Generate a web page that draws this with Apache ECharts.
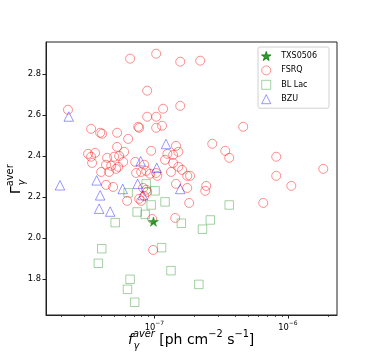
<!DOCTYPE html>
<html>
<head>
<meta charset="utf-8">
<script src="https://cdn.jsdelivr.net/npm/echarts@6/dist/echarts.min.js"></script>
<style>
html,body{margin:0;padding:0;background:#fff}
#main{width:374px;height:354px}
</style>
</head>
<body>
<div id="main"></div>
<script>
// values
var txsX = [9.83e-8];
var txsY = [2.081];

var fsrqX = [6.57e-8, 1.03e-7, 1.56e-7, 2.20e-7, 8.82e-8, 2.25e-8, 1.56e-7, 1.16e-7, 8.82e-8, 1.03e-7,
	4.62e-7, 3.35e-8, 3.92e-8, 4.05e-8, 5.25e-8, 7.55e-8, 7.68e-8, 1.03e-7, 1.14e-7, 6.35e-8,
	2.71e-7, 5.25e-8, 1.45e-7, 3.39e-7, 3.63e-7, 8.17e-7, 9.45e-8, 3.18e-8, 3.59e-8, 3.35e-8,
	3.41e-8, 5.93e-8, 4.42e-8, 4.99e-8, 5.44e-8, 4.34e-8, 4.74e-8, 5.35e-8, 5.83e-8, 3.99e-8,
	4.57e-8, 5.16e-8, 7.17e-8, 8.37e-8, 7.29e-8, 7.95e-8, 8.67e-8, 1.03e-7, 1.20e-7, 1.25e-7,
	1.38e-7, 1.51e-7, 1.38e-7, 1.51e-7, 1.33e-7, 1.61e-7, 1.76e-7, 1.84e-6, 8.17e-7, 1.85e-7,
	4.34e-8, 4.90e-8, 1.45e-7, 1.76e-7, 2.44e-7, 2.40e-7, 1.06e-6, 1.82e-7, 6.53e-7, 6.24e-8,
	7.68e-8, 7.95e-8, 8.67e-8, 8.82e-8, 9.61e-8, 1.43e-7, 9.78e-8, 1.05e-7, 9.29e-8, 8.23e-8,
	8.37e-8];
var fsrqY = [2.875, 2.899, 2.860, 2.865, 2.719, 2.626, 2.645, 2.631, 2.592, 2.592,
	2.543, 2.533, 2.514, 2.509, 2.514, 2.543, 2.538, 2.538, 2.548, 2.484,
	2.460, 2.445, 2.450, 2.426, 2.392, 2.397, 2.426, 2.411, 2.416, 2.397,
	2.367, 2.421, 2.392, 2.397, 2.401, 2.358, 2.353, 2.348, 2.372, 2.323,
	2.323, 2.338, 2.372, 2.358, 2.318, 2.323, 2.328, 2.318, 2.382, 2.411,
	2.406, 2.421, 2.367, 2.348, 2.323, 2.333, 2.304, 2.338, 2.304, 2.304,
	2.260, 2.250, 2.265, 2.245, 2.255, 2.231, 2.255, 2.172, 2.172, 2.182,
	2.192, 2.182, 2.236, 2.226, 2.094, 2.099, 1.943, 2.304, 2.314, 2.245,
	2.206];

var bllacX = [8.67e-8, 1.01e-7, 6.35e-8, 9.45e-8, 1.20e-7, 7.42e-8, 8.52e-8, 5.08e-8, 1.59e-7, 2.29e-7,
	2.62e-7, 3.63e-7, 4.03e-8, 1.13e-7, 3.80e-8, 1.33e-7, 6.57e-8, 6.28e-8, 7.11e-8, 2.15e-7];
var bllacY = [2.265, 2.231, 2.221, 2.162, 2.177, 2.128, 2.116, 2.076, 2.073, 2.044,
	2.089, 2.162, 1.949, 1.954, 1.878, 1.842, 1.800, 1.751, 1.688, 1.775];

var bzuX = [1.96e-8, 2.28e-8, 3.69e-8, 3.92e-8, 3.85e-8, 4.66e-8, 5.78e-8, 7.48e-8, 8.19e-8, 1.22e-7,
	7.88e-8, 1.04e-7, 1.56e-7];
var bzuY = [2.258, 2.593, 2.282, 2.209, 2.144, 2.130, 2.240, 2.265, 2.210, 2.459,
	2.375, 2.343, 2.240];

var xMajor = [1e-7, 1e-6];
var xMinor = [2e-8, 3e-8, 4e-8, 5e-8, 6e-8, 7e-8, 8e-8, 9e-8,
	2e-7, 3e-7, 4e-7, 5e-7, 6e-7, 7e-7, 8e-7, 9e-7, 2e-6];
var yTicks = [1.8, 2.0, 2.2, 2.4, 2.6, 2.8];

function pairs(xs, ys){
	var out = [];
	for(var i=0;i<xs.length;i++){
		out.push([xs[i], ys[i]]);
	}
	return out;
}

var font = 'DejaVu Sans';
var star = 'path://M0,-1L-0.2245,-0.309L-0.9511,-0.309L-0.3633,0.118L-0.5878,0.809L0,0.382L0.5878,0.809L0.3633,0.118L0.9511,-0.309L0.2245,-0.309Z';
var square = 'path://M0,0L1,0L1,1L0,1Z';
var tri = 'path://M0,-1L1,1L-1,1Z';

var myChart = echarts.init(document.getElementById('main'), null, {renderer:'canvas'});
var option = {
	animation: false,
	backgroundColor: '#fff',
	textStyle: {fontFamily: font},
	grid: {
		left: 46, right: 37, top: 42, bottom: 39,
		show: true, borderColor: '#222', borderWidth: 1,
		outerBoundsMode: 'none'
	},
	legend: {
		orient: 'vertical',
		left: 258, top: 47,
		padding: [4, 12, 4, 3],
		itemWidth: 20, itemHeight: 9, itemGap: 4.4,
		symbolKeepAspect: true,
		backgroundColor: 'rgba(255,255,255,0.8)',
		borderColor: '#d0d0d0', borderWidth: 1, borderRadius: 2,
		itemStyle: {borderWidth: 1},
		textStyle: {fontFamily: font, fontSize: 8, color: '#000'},
		data: ['TXS0506', 'FSRQ', 'BL Lac', 'BZU']
	},
	xAxis: [
		{
			type: 'log', logBase: 10,
			min: 1.54e-8, max: 2.33e-6,
			axisLine: {show: true, lineStyle: {color: '#222', width: 1}},
			axisTick: {show: true, length: 3.5, customValues: xMajor, lineStyle: {color: '#222'}},
			axisLabel: {
				customValues: xMajor, margin: 5, color: '#000',
				formatter: function(v){
					var e = Math.round(Math.log(v)/Math.LN10);
					return '{b|10}{s|\u2212' + (-e) + '}';
				},
				rich: {
					b: {fontFamily: font, fontSize: 8.3, color: '#000', lineHeight: 12, verticalAlign: 'bottom'},
					s: {fontFamily: font, fontSize: 6, color: '#000', verticalAlign: 'top'}
				}
			},
			splitLine: {show: false}
		},
		{
			type: 'log', logBase: 10,
			min: 1.54e-8, max: 2.33e-6,
			position: 'bottom',
			axisLine: {show: false},
			axisTick: {show: true, length: 2, customValues: xMinor, lineStyle: {color: '#222', width: 0.8}},
			axisLabel: {show: false},
			splitLine: {show: false}
		}
	],
	yAxis: {
		type: 'value',
		min: 1.626, max: 2.956,
		axisLine: {show: true, lineStyle: {color: '#222', width: 1}},
		axisTick: {show: true, length: 3.5, customValues: yTicks, lineStyle: {color: '#222'}},
		axisLabel: {
			customValues: yTicks, margin: 5, color: '#000',
			fontFamily: font, fontSize: 8.3,
			formatter: function(v){ return v.toFixed(1); }
		},
		splitLine: {show: false}
	},
	series: [
		{
			name: 'TXS0506', type: 'scatter', z: 5,
			symbol: star, symbolSize: 10, symbolKeepAspect: true,
			itemStyle: {color: '#008000', borderColor: '#008000', borderWidth: 0.5},
			data: pairs(txsX, txsY)
		},
		{
			name: 'FSRQ', type: 'scatter',
			symbol: 'circle', symbolSize: 9,
			itemStyle: {color: 'rgba(255,255,255,0)', borderColor: 'rgba(255,0,0,0.55)', borderWidth: 1},
			data: pairs(fsrqX, fsrqY)
		},
		{
			name: 'BL Lac', type: 'scatter',
			symbol: square, symbolSize: 8.5, symbolKeepAspect: true,
			itemStyle: {color: 'rgba(255,255,255,0)', borderColor: 'rgba(0,128,0,0.45)', borderWidth: 1},
			data: pairs(bllacX, bllacY)
		},
		{
			name: 'BZU', type: 'scatter',
			symbol: tri, symbolSize: 9.5, symbolKeepAspect: true,
			itemStyle: {color: 'rgba(255,255,255,0)', borderColor: 'rgba(0,0,255,0.5)', borderWidth: 1},
			data: pairs(bzuX, bzuY)
		}
	],
	graphic: [
		{
			type: 'group', x: 128, y: 329,
			children: [
				{type: 'text', x: 0, y: 0, style: {
					text: '{fi|f}{si|aver}{m| [ph cm}{s|\u22122}{m| s}{s|\u22121}{m|]}',
					fill: '#000',
					rich: {
						fi: {fontFamily: font, fontSize: 14, fontStyle: 'italic', lineHeight: 18, verticalAlign: 'bottom'},
						si: {fontFamily: font, fontSize: 9.8, fontStyle: 'italic', verticalAlign: 'top'},
						m: {fontFamily: font, fontSize: 14, lineHeight: 18, verticalAlign: 'bottom'},
						s: {fontFamily: font, fontSize: 9.8, verticalAlign: 'top'}
					}
				}},
				{type: 'text', x: 5.5, y: 12, style: {
					text: '\u03b3', fontFamily: font, fontSize: 9.8, fontStyle: 'italic', fill: '#000'
				}}
			]
		},
		{
			type: 'group', x: 5, y: 194, rotation: Math.PI / 2,
			children: [
				{type: 'text', x: 0, y: 0, style: {
					text: '{m|\u0393}{si|aver}',
					fill: '#000',
					rich: {
						m: {fontFamily: font, fontSize: 14, lineHeight: 18, verticalAlign: 'bottom'},
						si: {fontFamily: font, fontSize: 9.8, verticalAlign: 'top'}
					}
				}},
				{type: 'text', x: 8.5, y: 12, style: {
					text: '\u03b3', fontFamily: font, fontSize: 9.8, fontStyle: 'italic', fill: '#000'
				}}
			]
		}
	]
};
myChart.setOption(option);
</script>
</body>
</html>
